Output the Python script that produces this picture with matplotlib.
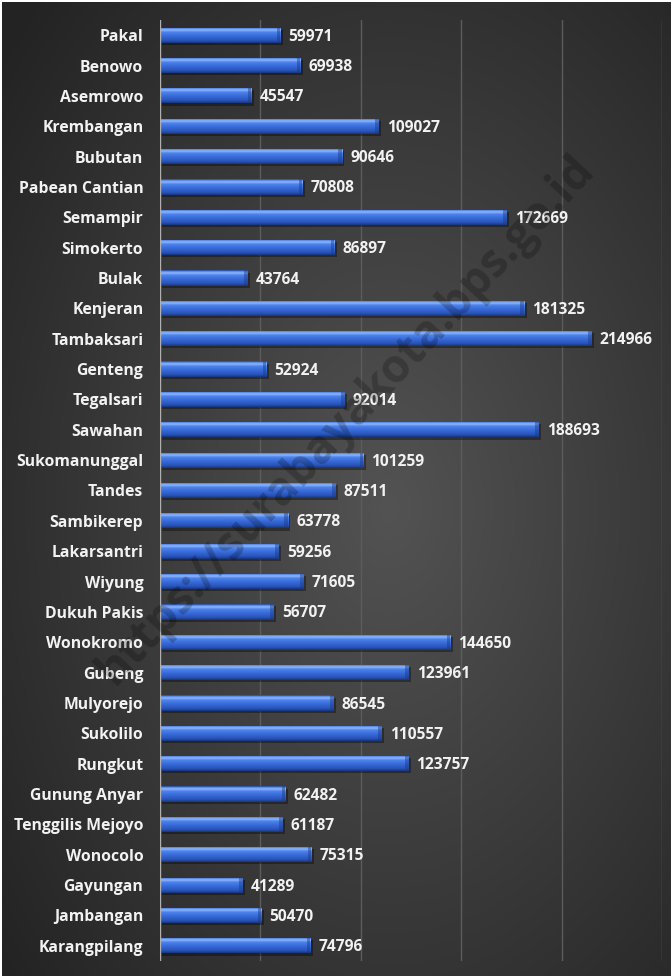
import numpy as np
import matplotlib
matplotlib.use("Agg")
import matplotlib.pyplot as plt
from matplotlib.colors import LinearSegmentedColormap, to_rgb

categories = ["Pakal", "Benowo", "Asemrowo", "Krembangan", "Bubutan", "Pabean Cantian",
              "Semampir", "Simokerto", "Bulak", "Kenjeran", "Tambaksari", "Genteng",
              "Tegalsari", "Sawahan", "Sukomanunggal", "Tandes", "Sambikerep", "Lakarsantri",
              "Wiyung", "Dukuh Pakis", "Wonokromo", "Gubeng", "Mulyorejo", "Sukolilo",
              "Rungkut", "Gunung Anyar", "Tenggilis Mejoyo", "Wonocolo", "Gayungan",
              "Jambangan", "Karangpilang"]
values = [59971, 69938, 45547, 109027, 90646, 70808, 172669, 86897, 43764, 181325,
          214966, 52924, 92014, 188693, 101259, 87511, 63778, 59256, 71605, 56707,
          144650, 123961, 86545, 110557, 123757, 62482, 61187, 75315, 41289, 50470, 74796]
xticks = [0, 50000, 100000, 150000, 200000, 250000]

FONT = ["Open Sans", "DejaVu Sans"]
W, H = 671, 976
fig = plt.figure(figsize=(W / 100, H / 100), dpi=100)
fig.patch.set_facecolor("white")

# background radial gradient
bg = fig.add_axes([2 / W, 0, 1 - 2 / W, 1 - 2 / H])
bg.set_axis_off()
yy, xx = np.mgrid[0:1:400j, 0:1:300j]
d = np.sqrt(((xx - 0.58) / 0.75) ** 2 + ((yy - 0.52) / 0.75) ** 2)
d = np.clip(d, 0, 1)
c_in = np.array(to_rgb("#535353"))
c_out = np.array(to_rgb("#232323"))
img = c_in[None, None, :] * (1 - d[..., None]) + c_out[None, None, :] * d[..., None]
bg.imshow(img, aspect="auto", extent=[0, 1, 0, 1], origin="upper")
bg.set_xlim(0, 1)
bg.set_ylim(0, 1)

# watermark
fig.text(0.515, 0.57, "https://surabayakota.bps.go.id", rotation=47, fontsize=33,
         fontweight="bold", color="black", alpha=0.22, ha="center", va="center",
         family=FONT)

ax = fig.add_axes([160 / W, 15 / H, (662 - 160) / W, (961 - 20) / H])
ax.set_facecolor("none")
n = len(categories)

for x in xticks[1:]:
    ax.axvline(x, color="#5c5c5c", lw=1, zorder=1)
ax.axvline(0, color="#b0b0b0", lw=1, zorder=5)

bar_cmap = LinearSegmentedColormap.from_list("bar", [
    (0.0, "#1d3f8c"), (0.08, "#5d8ff0"), (0.18, "#8fb6fa"), (0.32, "#4c82ea"),
    (0.6, "#3567d6"), (0.85, "#2853b8"), (1.0, "#17367d")])
grad = np.linspace(0, 1, 64)[:, None]
h = 0.5
ypos = np.arange(n)
bars = ax.barh(ypos, values, height=h, color="#3567d6", zorder=2)
for yi, v, b in zip(ypos, values, bars):
    ax.add_patch(plt.Rectangle((1200, yi - h / 2 + 0.07), v, h, color="black",
                               alpha=0.35, zorder=1.5, lw=0))
    im = ax.imshow(grad, cmap=bar_cmap, aspect="auto", origin="upper",
                   extent=[0, v, yi + h / 2, yi - h / 2], zorder=3)
    im.set_clip_path(b)
    ax.add_patch(plt.Rectangle((v - 1800, yi - h / 2), 1800, h, color="#1a3a85",
                               alpha=0.45, zorder=4, lw=0))
    ax.text(v + 4000, yi + 0.05, str(v), va="center", ha="left", color="#f2f2f2",
            fontsize=11.2, fontweight="bold", family=FONT, zorder=6)

ax.set_xlim(0, 250000)
ax.set_ylim(n - 0.5, -0.5)
ax.set_yticks(ypos)
ax.set_yticklabels(categories, color="#f2f2f2", fontsize=11.3, fontweight="bold",
                   family=FONT)
ax.tick_params(axis="y", length=0, pad=12)
ax.set_xticks([])
for s in ax.spines.values():
    s.set_visible(False)

fig.savefig("out.png", dpi=100, facecolor=fig.get_facecolor())
